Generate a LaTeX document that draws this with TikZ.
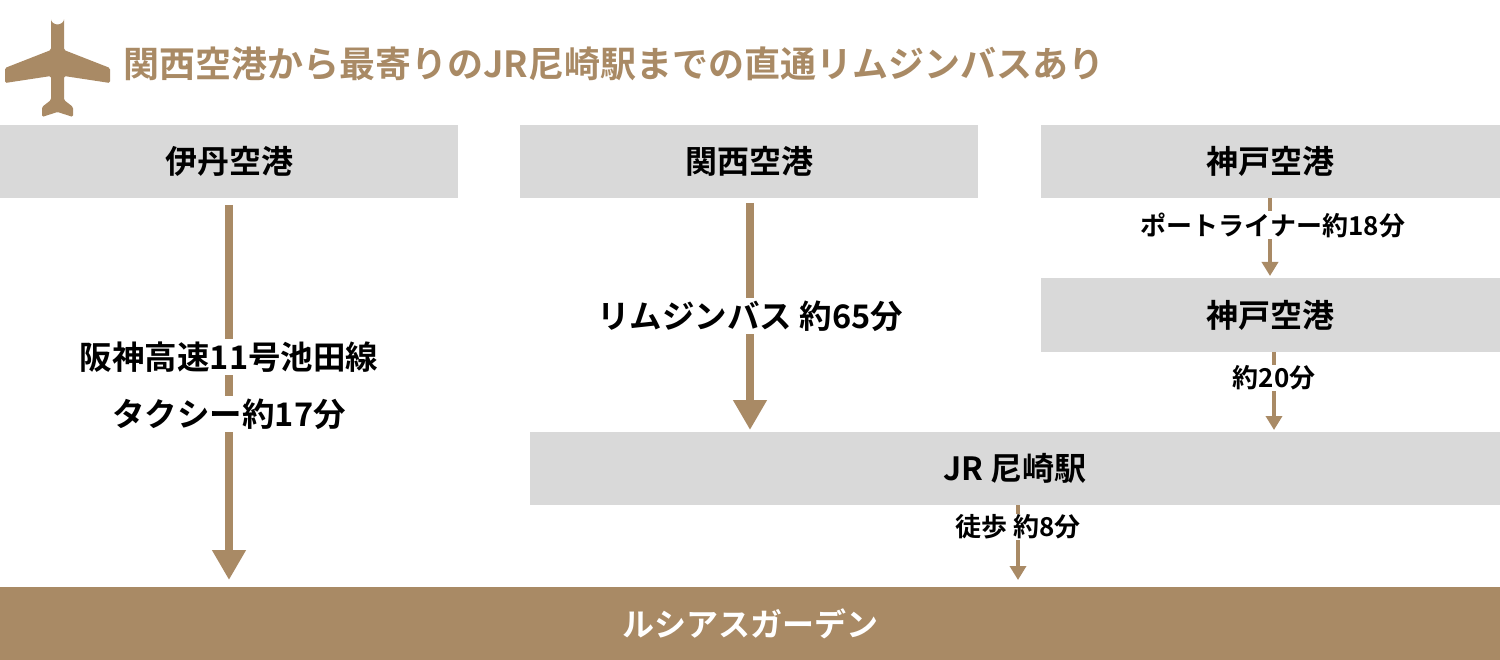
\documentclass[tikz,border=0pt]{standalone}
\usepackage{fontspec}
\setmainfont{Noto Sans CJK JP}[BoldFont={* Bold}]
\usetikzlibrary{arrows.meta}
\definecolor{brn}{HTML}{A98A65}
\definecolor{gbox}{HTML}{D9D9D9}
\begin{document}
\begin{tikzpicture}[x=1pt,y=-1pt,
  box/.style={fill=gbox,draw=none,anchor=north west,inner sep=0,font=\bfseries\fontsize{32}{38}\selectfont,text=black},
  lbl/.style={fill=white,inner sep=3pt,font=\bfseries\fontsize{32.5}{38}\selectfont},
  slbl/.style={fill=white,inner sep=1pt,font=\bfseries\fontsize{26}{30}\selectfont},
  big/.style={draw=brn,line width=8,-{Triangle[width=32,length=30]}},
  thin/.style={draw=brn,line width=4,-{Triangle[width=16,length=14]}}]
\useasboundingbox (0,0) rectangle (1500,660);
% plane
\fill[brn,rounded corners=1.5] (51,18) arc(180:0:6.5) -- (64,50) -- (110,68) -- (110,83) -- (64,76) -- (64,100) -- (73,107) -- (73,117) -- (57.5,112) -- (42,117) -- (42,107) -- (51,100) -- (51,76) -- (5,83) -- (5,68) -- (51,50) -- cycle;
\node[anchor=west,text=brn,font=\bfseries\fontsize{36}{42}\selectfont] (title) at (120,64) {関西空港から最寄りのJR尼崎駅までの直通リムジンバスあり};
% boxes
\node[box,minimum width=458,minimum height=73] (itami) at (0,125) {伊丹空港};
\node[box,minimum width=458,minimum height=73] (kix) at (520,125) {関西空港};
\node[box,minimum width=459,minimum height=73] (kobe1) at (1041,125) {神戸空港};
\node[box,minimum width=459,minimum height=74] (kobe2) at (1041,278) {神戸空港};
\node[box,minimum width=970,minimum height=73] (jr) at (530,432) {JR 尼崎駅};
\node[box,fill=brn,text=white,minimum width=1500,minimum height=73] (lucia) at (0,587) {ルシアスガーデン};
% connector anchor points
\coordinate (a1) at (229,205); \coordinate (a2) at (229,580);
\coordinate (b1) at (750,203); \coordinate (b2) at (750,430);
\coordinate (c1) at (1270,198); \coordinate (c2) at (1270,276);
\coordinate (d1) at (1274,352); \coordinate (d2) at (1274,430);
\coordinate (e1) at (1018,505); \coordinate (e2) at (1018,580);
\draw[big] (a1) -- (a2);
\draw[big] (b1) -- (b2);
\draw[thin] (c1) -- (c2);
\draw[thin] (d1) -- (d2);
\draw[thin] (e1) -- (e2);
\node[lbl] (l1) at (229,357) {阪神高速11号池田線};
\node[lbl] (l2) at (229,414) {タクシー約17分};
\node[lbl] (l3) at (750,316) {リムジンバス 約65分};
\node[slbl] (l4) at (1273,225) {ポートライナー約18分};
\node[slbl] (l5) at (1274,378) {約20分};
\node[slbl] (l6) at (1018,527) {徒歩 約8分};
\end{tikzpicture}
\end{document}
